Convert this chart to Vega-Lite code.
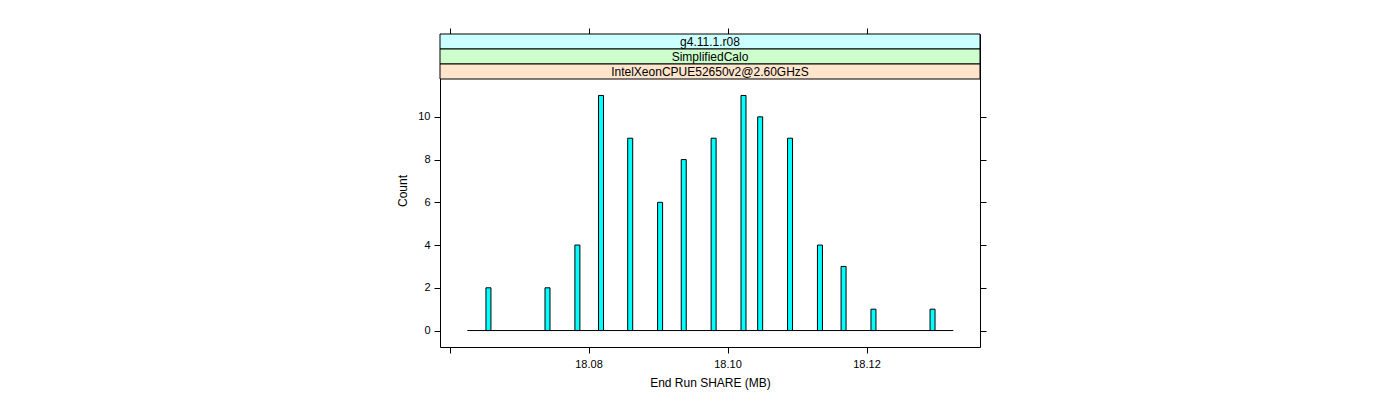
{
  "$schema": "https://vega.github.io/schema/vega-lite/v6.json",
  "autosize": "none",
  "width": 540,
  "height": 313,
  "padding": {"left": 440, "top": 34, "right": 420, "bottom": 53},
  "background": "white",
  "view": {"stroke": "black", "strokeWidth": 1},
  "config": {
    "font": "Liberation Sans",
    "axis": {"domain": false, "grid": false, "tickColor": "black", "tickSize": 6, "labelFont": "Liberation Sans", "labelFontSize": 11, "labelColor": "black", "titleFont": "Liberation Sans", "titleFontSize": 12, "titleFontWeight": "normal", "titleColor": "black"}
  },
  "datasets": {
    "bins": [
      {"share": 18.0656, "count": 2},
      {"share": 18.0741, "count": 2},
      {"share": 18.0784, "count": 4},
      {"share": 18.0818, "count": 11},
      {"share": 18.0860, "count": 9},
      {"share": 18.0903, "count": 6},
      {"share": 18.0937, "count": 8},
      {"share": 18.0980, "count": 9},
      {"share": 18.1023, "count": 11},
      {"share": 18.1047, "count": 10},
      {"share": 18.1090, "count": 9},
      {"share": 18.1133, "count": 4},
      {"share": 18.1167, "count": 3},
      {"share": 18.1210, "count": 1},
      {"share": 18.1295, "count": 1}
    ],
    "strips": [
      {"strip": "g4.11.1.r08"},
      {"strip": "SimplifiedCalo"},
      {"strip": "IntelXeonCPUE52650v2@2.60GHzS"}
    ]
  },
  "resolve": {"scale": {"y": "independent"}, "axis": {"x": "independent", "y": "independent"}},
  "layer": [
    {
      "data": {"name": "strips"},
      "encoding": {
        "y": {"field": "strip", "type": "nominal", "sort": ["g4.11.1.r08", "SimplifiedCalo", "IntelXeonCPUE52650v2@2.60GHzS"], "scale": {"paddingInner": 0, "paddingOuter": 0, "range": [0, 45]}, "axis": null}
      },
      "layer": [
        {
          "mark": {"type": "rect", "stroke": "black", "strokeWidth": 1},
          "encoding": {
            "fill": {"field": "strip", "type": "nominal", "scale": {"domain": ["g4.11.1.r08", "SimplifiedCalo", "IntelXeonCPUE52650v2@2.60GHzS"], "range": ["#CCFFFF", "#CCFFCC", "#FFE5CC"]}, "legend": null}
          }
        },
        {
          "mark": {"type": "text", "fontSize": 12, "font": "Liberation Sans", "color": "black", "baseline": "middle", "align": "center"},
          "encoding": {"text": {"field": "strip"}}
        }
      ]
    },
    {
      "data": {"values": [{}]},
      "mark": {"type": "rule", "color": "black", "strokeWidth": 1},
      "encoding": {
        "x": {"datum": 18.06256, "type": "quantitative", "scale": {"domain": [18.05863, 18.13633], "nice": false, "zero": false, "padding": 0},
              "axis": {"orient": "top", "values": [18.06, 18.08, 18.1, 18.12], "labels": false, "title": null}},
        "x2": {"datum": 18.13249},
        "y": {"datum": 0, "type": "quantitative", "scale": {"domain": [-0.77, 13.876], "nice": false, "zero": false, "padding": 0},
              "axis": {"orient": "right", "values": [0, 2, 4, 6, 8, 10], "labels": false, "title": null}}
      }
    },
    {
      "data": {"name": "bins"},
      "mark": {"type": "bar", "size": 5, "fill": "#00FFFF", "stroke": "black", "strokeWidth": 1},
      "encoding": {
        "x": {"field": "share", "type": "quantitative", "scale": {"domain": [18.05863, 18.13633], "nice": false, "zero": false, "padding": 0},
              "axis": {"orient": "bottom", "values": [18.06, 18.08, 18.1, 18.12], "labelExpr": "datum.value < 18.07 ? '' : format(datum.value, '.2f')", "labelPadding": 5, "title": "End Run SHARE (MB)", "titlePadding": 8}},
        "y": {"field": "count", "type": "quantitative", "scale": {"domain": [-0.77, 13.876], "nice": false, "zero": false, "padding": 0},
              "axis": {"orient": "left", "values": [0, 2, 4, 6, 8, 10], "title": "Count", "labelPadding": 4, "titlePadding": 8}},
        "y2": {"datum": 0}
      }
    }
  ]
}
